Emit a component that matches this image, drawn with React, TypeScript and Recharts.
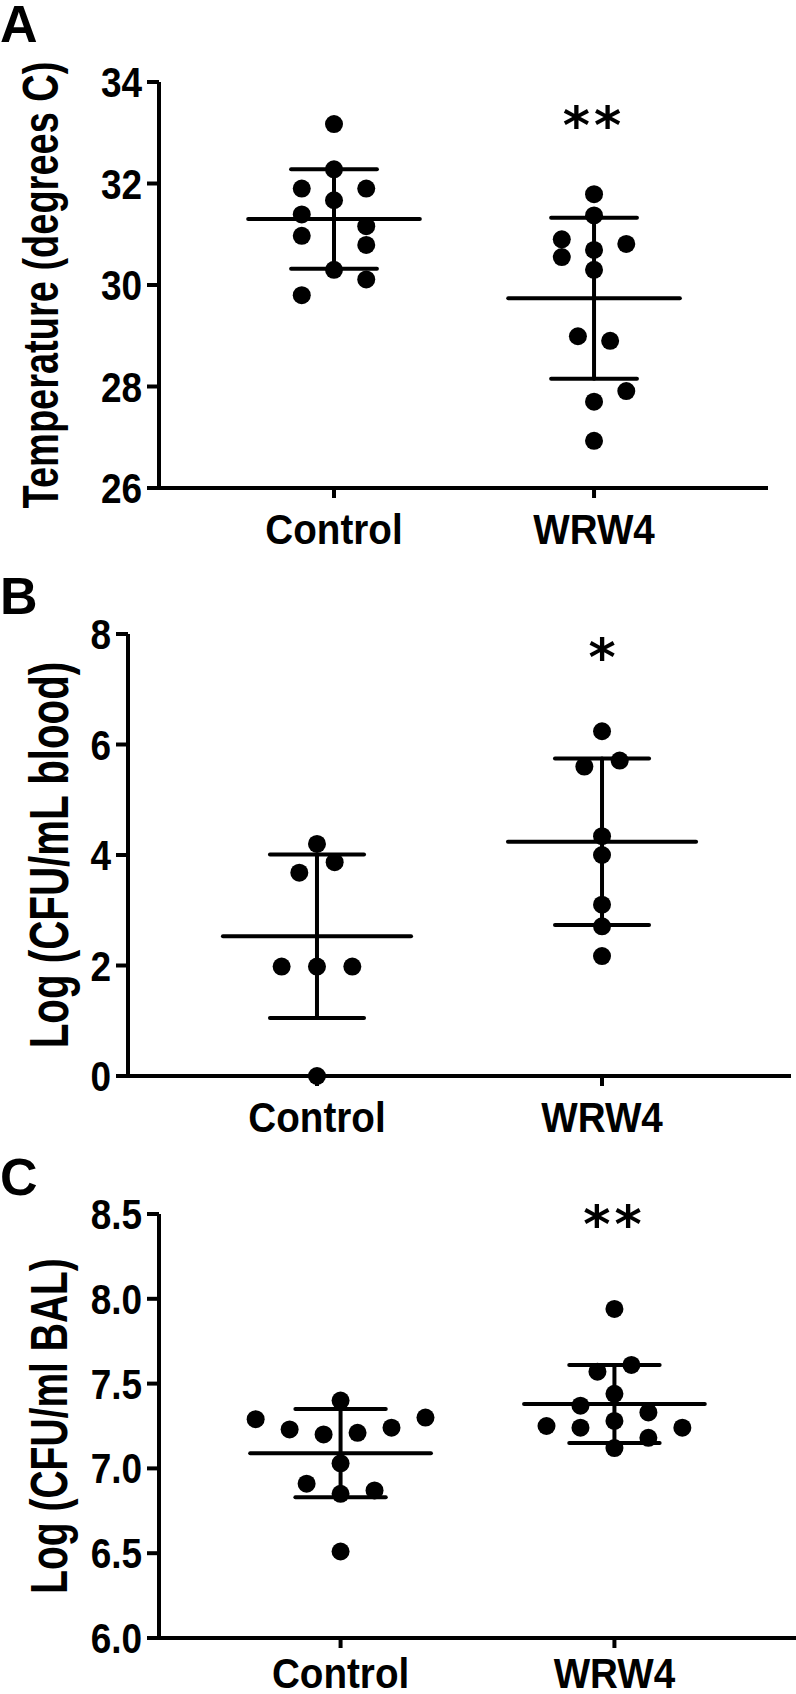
import { ScatterChart, Scatter, XAxis, YAxis, ReferenceLine } from 'recharts';

const FONT = '"Liberation Sans", Arial, Helvetica, sans-serif';
const groups = ['Control', 'WRW4'];

// Panel A: body temperature
const tempControl = [33.17, 32.28, 31.9, 31.9, 31.67, 31.39, 31.16, 30.97, 30.79, 30.3, 30.11, 29.8];
const tempControlSlots = [0, 0, -2, 2, 0, -2, 2, -2, 2, 0, 2, -2];
const tempWrw4 = [31.79, 31.37, 30.9, 30.81, 30.69, 30.55, 30.3, 28.99, 28.9, 27.91, 27.7, 26.93];
const tempWrw4Slots = [0, 0, -2, 2, 0, -2, 0, -1, 1, 2, 0, 0];
const tempMeans = [31.3, 29.74];
const tempSds = [0.98, 1.585];
const tempTicks = [26, 28, 30, 32, 34];

// Panel B: blood CFU
const bloodControl = [4.2, 3.87, 3.68, 1.98, 1.98, 1.98, 0];
const bloodControlSlots = [0, 1, -1, -2, 0, 2, 0];
const bloodWrw4 = [6.24, 5.6, 5.71, 4.34, 4.0, 3.1, 2.71, 2.17];
const bloodWrw4Slots = [0, -1, 1, 0, 0, 0, 0, 0];
const bloodMeans = [2.53, 4.24];
const bloodSds = [1.48, 1.505];
const bloodTicks = [0, 2, 4, 6, 8];

// Panel C: BAL CFU
const balControl = [7.4, 7.29, 7.3, 7.23, 7.24, 7.2, 7.21, 7.03, 6.91, 6.85, 6.87, 6.51];
const balControlSlots = [0, -5, 5, -3, 3, -1, 1, 0, -2, 0, 2, 0];
const balWrw4 = [7.94, 7.61, 7.57, 7.44, 7.37, 7.33, 7.25, 7.24, 7.28, 7.24, 7.18, 7.12];
const balWrw4Slots = [0, 1, -1, 0, -2, 2, -4, -2, 0, 4, 2, 0];
const balMeans = [7.09, 7.38];
const balSds = [0.26, 0.23];
const balTicks = [6.0, 6.5, 7.0, 7.5, 8.0, 8.5];

const SLOT = 0.062;
const MEAN_HALF = 0.33;
const CAP_HALF = 0.165;

const toPoints = (vals: number[], slots: number[], g: number) =>
  vals.map((v, i) => ({ x: g + slots[i] * SLOT, y: v }));

const Dot = (p: any) => <circle cx={p.cx} cy={p.cy} r={9} fill="#000" />;

const makeStar = (txt: string) => (p: any) => (
  <text
    x={p.cx}
    y={p.cy + 28}
    textAnchor="middle"
    fontFamily='"DejaVu Sans", sans-serif'
    fontWeight="bold"
    fontSize={52}
    letterSpacing={txt.length > 1 ? 4 : 0}
    fill="#000"
  >
    {txt}
  </text>
);

// tall bold labels, squeezed sideways a little like the figure's font
const XTick = ({ x, y, payload, base }: any) => (
  <text
    transform={`translate(${x} ${y + base}) scale(0.92 1)`}
    textAnchor="middle"
    fontFamily={FONT}
    fontWeight="bold"
    fontSize={42}
    fill="#000"
  >
    {groups[payload.value - 1]}
  </text>
);

const YTick = ({ x, y, payload, fmt }: any) => (
  <text
    transform={`translate(${x} ${y + 15}) scale(0.88 1)`}
    textAnchor="end"
    fontFamily={FONT}
    fontWeight="bold"
    fontSize={42}
    fill="#000"
  >
    {fmt ? fmt(payload.value) : payload.value}
  </text>
);

function YTitle(props: any) {
  const { viewBox, value, baseX, size, sx } = props;
  const cy = viewBox.y + viewBox.height / 2;
  return (
    <text
      transform={`translate(${baseX} ${cy}) rotate(-90) scale(${sx} 1)`}
      textAnchor="middle"
      fontFamily={FONT}
      fontWeight="bold"
      fontSize={size}
      fill="#000"
    >
      {value}
    </text>
  );
}

interface PanelProps {
  top: number;
  height: number;
  margin: { top: number; right: number; bottom: number; left: number };
  xDomain: [number, number];
  yDomain: [number, number];
  yTicks: number[];
  yFormat?: (v: number) => string;
  title: string;
  titleX: number;
  titleSize: number;
  titleScale: number;
  control: number[];
  controlSlots: number[];
  wrw4: number[];
  wrw4Slots: number[];
  means: number[];
  sds: number[];
  star: string;
  starY: number;
  xAxisHeight: number;
  labelBase: number;
}

const line = { stroke: '#000', strokeWidth: 4 };

function Panel(p: PanelProps) {
  const bars: any[] = [];
  [1, 2].forEach((g, i) => {
    const m = p.means[i];
    const s = p.sds[i];
    bars.push([{ x: g - MEAN_HALF, y: m }, { x: g + MEAN_HALF, y: m }]);
    bars.push([{ x: g - CAP_HALF, y: m + s }, { x: g + CAP_HALF, y: m + s }]);
    bars.push([{ x: g - CAP_HALF, y: m - s }, { x: g + CAP_HALF, y: m - s }]);
    bars.push([{ x: g, y: m - s }, { x: g, y: m + s }]);
  });

  return (
    <div style={{ position: 'absolute', left: 0, top: p.top }}>
      <ScatterChart width={796} height={p.height} margin={p.margin}>
        <XAxis
          type="number"
          dataKey="x"
          domain={p.xDomain}
          allowDataOverflow
          ticks={[1, 2]}
          tick={<XTick base={p.labelBase} />}
          tickSize={10}
          tickMargin={0}
          axisLine={line}
          tickLine={line}
          height={p.xAxisHeight}
        />
        <YAxis
          type="number"
          dataKey="y"
          domain={p.yDomain}
          ticks={p.yTicks}
          interval={0}
          tick={<YTick fmt={p.yFormat} />}
          tickSize={12}
          tickMargin={5}
          axisLine={line}
          tickLine={line}
          width={60}
          label={(lp: any) => (
            <YTitle {...lp} value={p.title} baseX={p.titleX} size={p.titleSize} sx={p.titleScale} />
          )}
        />
        {bars.map((seg, i) => (
          <ReferenceLine key={i} segment={seg} stroke="#000" strokeWidth={4} strokeLinecap="round" />
        ))}
        <Scatter data={toPoints(p.control, p.controlSlots, 1)} shape={Dot} isAnimationActive={false} />
        <Scatter data={toPoints(p.wrw4, p.wrw4Slots, 2)} shape={Dot} isAnimationActive={false} />
        <Scatter data={[{ x: 2, y: p.starY }]} shape={makeStar(p.star)} isAnimationActive={false} />
      </ScatterChart>
    </div>
  );
}

export default function App() {
  return (
    <div
      style={{
        position: 'absolute',
        left: 0,
        top: 0,
        width: 796,
        height: 1694,
        background: '#fff',
        overflow: 'hidden',
      }}
    >
      <Panel
        top={0}
        height={560}
        margin={{ top: 82, right: 28, bottom: 12, left: 99 }}
        xDomain={[0.327, 2.669]}
        yDomain={[26, 34]}
        yTicks={tempTicks}
        title="Temperature (degrees C)"
        titleX={58}
        titleSize={50}
        titleScale={0.76}
        control={tempControl}
        controlSlots={tempControlSlots}
        wrw4={tempWrw4}
        wrw4Slots={tempWrw4Slots}
        means={tempMeans}
        sds={tempSds}
        star="**"
        starY={33.35}
        xAxisHeight={60}
        labelBase={46}
      />
      <Panel
        top={560}
        height={592}
        margin={{ top: 74, right: 5, bottom: 16, left: 68 }}
        xDomain={[0.337, 2.663]}
        yDomain={[0, 8]}
        yTicks={bloodTicks}
        title="Log (CFU/mL blood)"
        titleX={68}
        titleSize={56}
        titleScale={0.72}
        control={bloodControl}
        controlSlots={bloodControlSlots}
        wrw4={bloodWrw4}
        wrw4Slots={bloodWrw4Slots}
        means={bloodMeans}
        sds={bloodSds}
        star="*"
        starY={7.76}
        xAxisHeight={60}
        labelBase={46}
      />
      <Panel
        top={1140}
        height={554}
        margin={{ top: 74, right: 0, bottom: 6, left: 99 }}
        xDomain={[0.337, 2.663]}
        yDomain={[6, 8.5]}
        yTicks={balTicks}
        yFormat={(v: number) => v.toFixed(1)}
        title="Log (CFU/ml BAL)"
        titleX={67}
        titleSize={52}
        titleScale={0.75}
        control={balControl}
        controlSlots={balControlSlots}
        wrw4={balWrw4}
        wrw4Slots={balWrw4Slots}
        means={balMeans}
        sds={balSds}
        star="**"
        starY={8.5}
        xAxisHeight={50}
        labelBase={40}
      />
      <svg
        width={796}
        height={1694}
        style={{ position: 'absolute', left: 0, top: 0, pointerEvents: 'none' }}
      >
        <text x={0} y={42} fontFamily={FONT} fontWeight="bold" fontSize={52} fill="#000">A</text>
        <text x={0} y={614} fontFamily={FONT} fontWeight="bold" fontSize={52} fill="#000">B</text>
        <text x={0} y={1195} fontFamily={FONT} fontWeight="bold" fontSize={52} fill="#000">C</text>
      </svg>
    </div>
  );
}
